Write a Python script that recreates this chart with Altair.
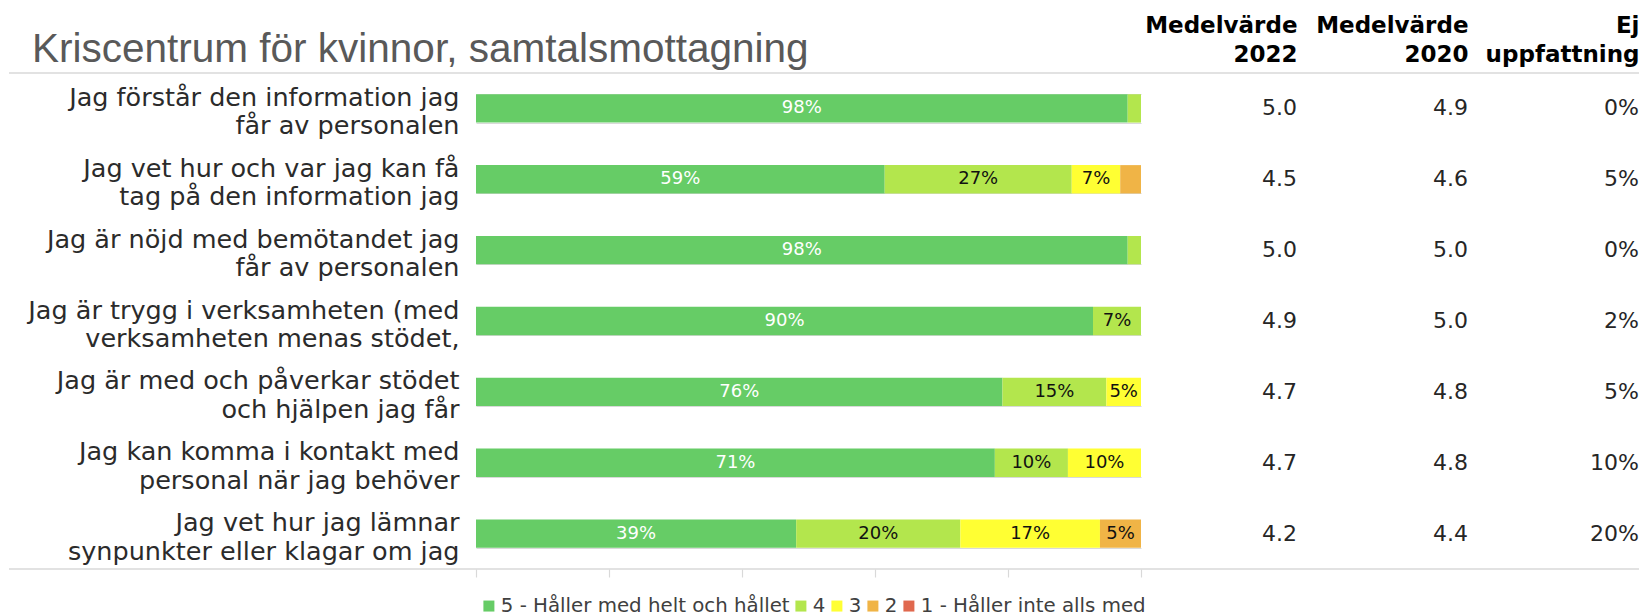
import altair as alt
import pandas as pd

# ---------------- data ----------------
questions = [
    "Jag förstår den information jag\nfår av personalen",
    "Jag vet hur och var jag kan få\ntag på den information jag",
    "Jag är nöjd med bemötandet jag\nfår av personalen",
    "Jag är trygg i verksamheten (med\nverksamheten menas stödet,",
    "Jag är med och påverkar stödet\noch hjälpen jag får",
    "Jag kan komma i kontakt med\npersonal när jag behöver",
    "Jag vet hur jag lämnar\nsynpunkter eller klagar om jag",
]
categories = ["5 - Håller med helt och hållet", "4", "3", "2", "1 - Håller inte alls med"]
cat_colors = ["#66CC66", "#B3E64D", "#FFFF33", "#F0B446", "#E0684E"]

share_5 = [98, 59, 98, 90, 76, 71, 39]
share_4 = [2, 27, 2, 7, 15, 10, 20]
share_3 = [0, 7, 0, 0, 5, 10, 17]
share_2 = [0, 3, 0, 0, 0, 0, 5]
share_1 = [0, 0, 0, 0, 0, 0, 0]

mean_2022 = [5.0, 4.5, 5.0, 4.9, 4.7, 4.7, 4.2]
mean_2020 = [4.9, 4.6, 5.0, 5.0, 4.8, 4.8, 4.4]
ej_uppfattning = [0, 5, 0, 2, 5, 10, 20]

col_headers = ["Medelvärde\n2022", "Medelvärde\n2020", "Ej\nuppfattning"]
title_text = "Kriscentrum för kvinnor, samtalsmottagning"
x_ticks = [0, 0.2, 0.4, 0.6, 0.8, 1.0]

# ---------------- tables ----------------
series = [share_5, share_4, share_3, share_2, share_1]
rows = []
for qi, q in enumerate(questions):
    for ci, cat in enumerate(categories):
        v = series[ci][qi]
        if v > 0:
            rows.append({"q": q, "cat": cat, "ord": ci, "value": v,
                         "label": f"{v}%", "white": ci == 0})
bars_df = pd.DataFrame(rows)

trows = []
for qi, q in enumerate(questions):
    trows.append({"q": q, "col": col_headers[0], "txt": f"{mean_2022[qi]:.1f}"})
    trows.append({"q": q, "col": col_headers[1], "txt": f"{mean_2020[qi]:.1f}"})
    trows.append({"q": q, "col": col_headers[2], "txt": f"{ej_uppfattning[qi]}%"})
table_df = pd.DataFrame(trows)

one = pd.DataFrame({"k": [0]})

FONT = "DejaVu Sans"
W, H = 665, 496
yscale = alt.Scale(domain=questions, paddingInner=0.6, paddingOuter=0.3)

base = alt.Chart(bars_df).transform_stack(
    stack="value", groupby=["q"], as_=["x0", "x1"], offset="normalize",
    sort=[alt.SortField("ord", order="ascending")]
).transform_calculate(mid="(datum.x0 + datum.x1) / 2")

y_enc = alt.Y(
    "q:N", sort=questions, scale=yscale,
    axis=alt.Axis(
        title=None,
        labelExpr="isValid(datum.value) ? split(datum.value, '\\n') : ''",
        labelAlign="right", labelBaseline="middle", labelFontSize=25.5,
        labelFont=FONT, labelColor="#2b2b2b", labelLineHeight=28.5,
        labelOffset=-11, labelPadding=17, ticks=False, domain=False, grid=True,
        gridColor="#d9d9d9", gridWidth=1.2, tickBand="extent", labelLimit=0,
    ),
)

bars = base.mark_bar().encode(
    x=alt.X("x0:Q", scale=alt.Scale(domain=[0, 1], nice=False),
            axis=alt.Axis(values=x_ticks, labels=False, title=None, domain=False,
                          ticks=True, tickSize=8, tickColor="#d9d9d9",
                          tickWidth=1.2, grid=False)),
    x2="x1:Q",
    y=y_enc,
    color=alt.Color(
        "cat:N", scale=alt.Scale(domain=categories, range=cat_colors),
        legend=alt.Legend(
            title=None, orient="none", legendX=3, legendY=523,
            direction="horizontal", columns=5, symbolType="square",
            symbolSize=121, symbolStrokeWidth=0, labelFontSize=19.8,
            labelFont=FONT, labelColor="#404040", columnPadding=1,
            labelOffset=2, labelLimit=0,
        ),
    ),
    order=alt.Order("ord:Q"),
)

labels = base.transform_filter("datum.value >= 5").mark_text(
    font=FONT, fontSize=18, baseline="middle", align="center"
).encode(
    x=alt.X("mid:Q"),
    y=alt.Y("q:N", sort=questions, scale=yscale),
    text="label:N",
    color=alt.condition("datum.white", alt.value("white"), alt.value("#111111")),
)

rule_top = alt.Chart(one).mark_rule(color="#d9d9d9", strokeWidth=1.5).encode(
    x=alt.value(-467), x2=alt.value(1163), y=alt.value(0))
rule_bottom = alt.Chart(one).mark_rule(color="#d9d9d9", strokeWidth=1.5).encode(
    x=alt.value(-467), x2=alt.value(1163), y=alt.value(H))

title = alt.Chart(one).mark_text(
    text=title_text, align="left", baseline="alphabetic", fontSize=40.5,
    font="Liberation Sans", color="#595959"
).encode(x=alt.value(-444), y=alt.value(-11))

panel_a = alt.layer(bars, labels, rule_top, rule_bottom, title).properties(width=W, height=H)

table = alt.Chart(table_df).mark_text(
    align="right", baseline="middle", fontSize=22, font=FONT, color="#262626"
).encode(
    x=alt.X("col:N", sort=col_headers, scale=alt.Scale(type="point", padding=0),
            axis=alt.Axis(orient="top", title=None,
                          labelExpr="split(datum.value, '\\n')",
                          labelAlign="right", labelBaseline="bottom",
                          labelFont=FONT, labelFontWeight="bold", labelFontSize=23,
                          labelLineHeight=29, labelColor="#000000", labelPadding=36,
                          ticks=False, tickSize=0, domain=False, grid=False,
                          labelLimit=0, labelAngle=0, labelOverlap=False)),
    y=alt.Y("q:N", sort=questions, scale=yscale, axis=None),
    text="txt:N",
).properties(width=342, height=H)

chart = alt.hconcat(panel_a, table, spacing=156, bounds="flush").properties(
    padding={"left": 0, "top": 6, "right": 0, "bottom": 0}
).configure_view(stroke=None)

chart.save("out.html", embed_options={"renderer": "svg", "actions": False})
